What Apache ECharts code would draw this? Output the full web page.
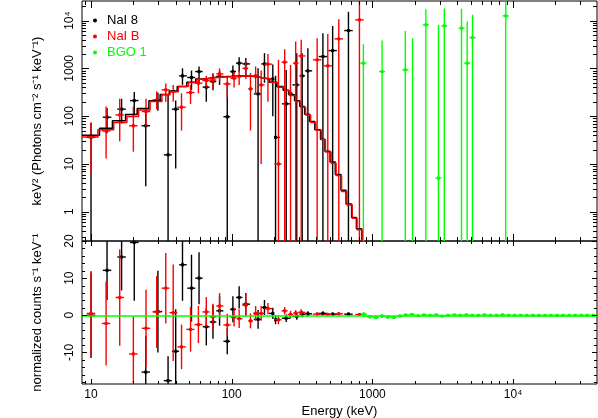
<!DOCTYPE html>
<html>
<head>
<meta charset="utf-8">
<script src="https://cdn.jsdelivr.net/npm/echarts/dist/echarts.min.js"></script>
<style>
  html, body { margin: 0; padding: 0; background: #fff; }
  #main { width: 598px; height: 418px; }
</style>
</head>
<body>
<div id="main"></div>
<script>
// NaI 8 (black): energy, flux (keV^2 F), flux error range, residual and its error
const n8E      = [10.0, 13.0, 16.5, 20.3, 24.5, 29.9, 35.3, 40.0, 44.7, 51.8, 58.6, 66.0, 73.6, 82.0, 93.0, 102, 113, 126, 154, 171, 196, 205, 244, 290, 317, 348, 445, 522, 676];
const n8F      = [36, 95, 140, 212, 63, 212, 15.5, 140, 697, 645, 857, 405, 530, 677, 97, 857, 1285, 1240, 292, 1240, 600, 36, 181, 452, 697, 887, 1766, 2355, 6180];
const n8Hi     = [72, 149, 230, 320, 134, 310, 280, 212, 1000, 900, 1100, 600, 750, 900, 500, 1150, 1700, 1650, 1000, 2080, 1200, 700, 930, 2080, 2080, 2630, 5450, 7750, 15400];
const n8Lo     = [0, 44, 70, 110, 3.4, 130, 0, 8, 450, 350, 500, 200, 350, 450, 0, 600, 850, 700, 0, 500, 100, 0, 0, 0, 0, 0, 0, 0, 0];
const n8Res    = [0, 12.1, 15.7, 19.6, -15.3, 1.0, -17.6, -9.7, 13.6, 7.3, 10, -3.1, -1.8, 1.2, -7, 1.6, 4.8, 3, -1.1, 2.1, 0.5, -1.2, -0.8, -0.3, 0.3, 0.4, 0.5, 0.3, 0.3];
const n8ResErr = [11.5, 8, 9, 15.7, 9.7, 11, 6.6, 11.3, 9.7, 9, 7, 5, 4.5, 4, 3.5, 3.5, 3, 3, 2.5, 2, 1.5, 1.2, 1, 0.9, 0.8, 0.7, 0.6, 0.5, 0.5];

// NaI B (red)
const nbE      = [10.0, 12.8, 16.0, 20.0, 24.6, 29.3, 34.0, 38.4, 44.0, 51.0, 58.0, 66.0, 73.6, 82.0, 93.0, 104, 113, 126, 136, 148, 162, 181, 215, 238, 262, 285, 312, 405, 482, 577, 809];
const nbF      = [37, 49, 106, 63, 125, 219, 355, 327, 154, 312, 490, 556, 570, 767, 473, 620, 680, 1000, 372, 697, 450, 1225, 10, 1350, 300, 1280, 1820, 1510, 1130, 4140, 10350];
const nbHi     = [75, 159, 230, 159, 230, 330, 480, 450, 300, 450, 650, 700, 800, 1000, 700, 850, 900, 1400, 800, 1100, 900, 2000, 1510, 2520, 1180, 3640, 3950, 4280, 5270, 10700, 30000];
const nbLo     = [6.5, 13, 30, 18, 60, 140, 200, 200, 50, 180, 300, 400, 380, 550, 250, 400, 450, 600, 50, 300, 10, 200, 0, 0, 0, 0, 0, 0, 0, 0, 0];
const nbRes    = [0.5, -2.2, 4.8, -10.4, -3.5, 0.9, 7.3, 0.7, -8.5, -3.8, -2.5, 0.9, -0.4, 2.5, -2.6, -0.5, -0.9, 2.7, -1.5, 0.5, 0.5, 1.8, -1.2, 1.2, 0.2, 0.6, 0.8, 0.3, 0.2, 0.4, 0.2];
const nbResErr = [11.4, 11.3, 13, 10, 10.4, 9.7, 9.5, 13, 6, 6, 5, 4, 3.5, 3.5, 3, 2.5, 2.5, 3, 2, 2, 2, 1.5, 1.2, 1, 1, 0.8, 0.8, 0.6, 0.5, 0.5, 0.4];

// BGO 1 (green): points visible in the upper panel
const bgoE  = [863, 1172, 1714, 1930, 2400, 2950, 3245, 4300, 4720, 5150, 8870];
const bgoF  = [1285, 857, 930, 0.1, 8130, 5.05, 7750, 6920, 1285, 4400, 12540];
const bgoHi = [3200, 3815, 6090, 4280, 17300, 8130, 18000, 17600, 9540, 13200, 60000];
// BGO 1 residual channels
const bgoResE   = [870, 960, 1060, 1170, 1290, 1420, 1570, 1730, 1910, 2110, 2330, 2570, 2840, 3130, 3460, 3820, 4210, 4650, 5130, 5670, 6260, 6910, 7630, 8420, 9300, 10270, 11340, 12520, 13820, 15260, 16850, 18600, 20540, 22680, 25040, 27650, 30530, 33710, 37220];
const bgoRes    = [0.3, -0.4, -0.6, -0.2, -0.5, -0.6, -0.2, 0.1, 0.2, -0.1, 0.1, 0, 0.1, -0.2, 0, 0.1, 0, 0.1, 0, 0, 0.1, 0, 0, 0.1, 0, 0, 0, 0, 0, 0, 0, 0, 0, 0, 0, 0, 0, 0, 0];
const bgoResErr = [0.6, 0.5, 0.5, 0.5, 0.4, 0.4, 0.4, 0.3, 0.3, 0.3, 0.3, 0.3, 0.3, 0.3, 0.3, 0.3, 0.3, 0.3, 0.3, 0.3, 0.3, 0.3, 0.3, 0.3, 0.3, 0.3, 0.3, 0.3, 0.3, 0.3, 0.3, 0.3, 0.3, 0.3, 0.3, 0.3, 0.3, 0.3, 0.3];

// folded model (step histograms)
const n8ModelE = [8.63, 11.5, 14.2, 17.6, 21.3, 25.8, 31.0, 36.0, 41.0, 48.0, 55.5, 64, 80, 130, 155, 185, 208, 232, 255, 280, 305, 330, 358, 390, 428, 460, 500, 545, 598, 650, 712, 770, 840];
const n8ModelF = [40, 56, 80, 108, 145, 210, 285, 335, 420, 510, 600, 660, 700, 660, 600, 510, 420, 350, 280, 210, 160, 110, 77, 52, 33, 18.5, 11, 6, 2.8, 1.45, 0.76, 0.44];
const nbModelE = [8.63, 11.2, 14.5, 18.0, 21.8, 26.3, 31.9, 36.5, 41.8, 49.3, 56.5, 63.1, 82, 134, 158, 191, 213, 238, 258, 285, 312, 335, 364, 396, 434, 464, 509, 552, 604, 660, 719, 778, 845];
const nbModelF = [36.5, 52, 74, 98, 135, 202, 280, 326, 417, 505, 594, 654, 697, 654, 594, 505, 405, 340, 270, 202, 154, 106, 74, 50.5, 32, 17.7, 10.4, 5.7, 2.65, 1.39, 0.73, 0.42];

const FONT = '"Liberation Sans", Arial, Helvetica, sans-serif';
const X_MIN = 8.63, X_MAX = 39500;
const FLOOR = 1e-3;
const MAX_HALF = 1.072; // widest half-bin drawn, as an energy ratio
const SUP = ['⁰', '¹', '²', '³', '⁴', '⁵'];

// bin edges: geometric midpoints between neighbouring channels
function binEdges(list) {
  return list.map((e, i) => {
    const prev = i > 0 ? list[i - 1] : e * e / list[i + 1];
    const next = i < list.length - 1 ? list[i + 1] : e * e / list[i - 1];
    const lo = Math.max(Math.sqrt(prev * e), e / MAX_HALF);
    const hi = Math.min(Math.sqrt(e * next), e * MAX_HALF);
    return [lo, hi];
  });
}
function nearestEdges(grid, e) {
  const ed = binEdges(grid);
  let best = 0;
  grid.forEach((g, i) => { if (Math.abs(Math.log(g / e)) < Math.abs(Math.log(grid[best] / e))) best = i; });
  const w = Math.sqrt(ed[best][1] / ed[best][0]);
  return [e / w, e * w];
}

function topRows(E, F, lo, hi) {
  const ed = binEdges(E);
  return E.map((e, i) => [e, ed[i][0], ed[i][1], F[i], lo[i] > 0 ? lo[i] : FLOOR, hi[i]]);
}
function resRows(E, R, err) {
  const ed = binEdges(E);
  return E.map((e, i) => [e, ed[i][0], ed[i][1], R[i], R[i] - err[i], R[i] + err[i]]);
}
function stepData(edges, vals) {
  const pts = vals.map((v, i) => [edges[i], v]);
  pts.push([edges[edges.length - 1], vals[vals.length - 1]]);
  pts.push([edges[edges.length - 1], FLOOR]);
  return pts;
}

function crossRender(color) {
  return function (params, api) {
    const c = api.coord([api.value(0), api.value(3)]);
    const l = api.coord([api.value(1), api.value(3)]);
    const r = api.coord([api.value(2), api.value(3)]);
    const b = api.coord([api.value(0), api.value(4)]);
    const t = api.coord([api.value(0), api.value(5)]);
    const st = { stroke: color, lineWidth: 1.4 };
    return {
      type: 'group',
      children: [
        { type: 'line', shape: { x1: l[0], y1: c[1], x2: r[0], y2: c[1] }, style: st },
        { type: 'line', shape: { x1: c[0], y1: t[1], x2: c[0], y2: b[1] }, style: st },
        { type: 'rect', shape: { x: c[0] - 1.5, y: c[1] - 1.5, width: 3, height: 3 }, style: { fill: color } }
      ]
    };
  };
}
function crossSeries(name, gi, color, rows) {
  return {
    name: name, type: 'custom', xAxisIndex: gi, yAxisIndex: gi, clip: true, silent: true,
    itemStyle: { color: color }, data: rows, renderItem: crossRender(color)
  };
}

function logTicks(lo, hi) {
  const out = [];
  for (let d = -2; d <= 5; d++) {
    for (let m = 1; m <= 9; m++) {
      const v = m * Math.pow(10, d);
      if (v >= lo && v <= hi) out.push({ v: v, major: m === 1 });
    }
  }
  return out;
}
function linTicks(lo, hi) {
  const out = [];
  for (let v = -20; v <= 20; v += 2) if (v >= lo && v <= hi) out.push({ v: v, major: v % 10 === 0 });
  return out;
}
function frameTicks(gi, xt, yt, refY, big, small) {
  return {
    type: 'custom', xAxisIndex: gi, yAxisIndex: gi, silent: true, z: 10,
    data: [[X_MIN * 2, refY]],
    renderItem: function (params, api) {
      const cs = params.coordSys;
      const kids = [];
      const add = (x1, y1, x2, y2) => kids.push({ type: 'line', shape: { x1, y1, x2, y2 }, style: { stroke: '#000', lineWidth: 1 } });
      xt.forEach(t => {
        const px = Math.round(api.coord([t.v, refY])[0]) + 0.5;
        const L = t.major ? big : small;
        add(px, cs.y, px, cs.y + L);
        add(px, cs.y + cs.height, px, cs.y + cs.height - L);
      });
      yt.forEach(t => {
        const py = Math.round(api.coord([X_MIN * 2, t.v])[1]) + 0.5;
        const L = t.major ? big : small;
        add(cs.x, py, cs.x + L, py);
        add(cs.x + cs.width, py, cs.x + cs.width - L, py);
      });
      return { type: 'group', children: kids };
    }
  };
}

function powLabel(v) {
  const lg = Math.log10(v), p = Math.round(lg);
  if (Math.abs(lg - p) > 1e-6) return '';
  return p >= 4 ? '10' + SUP[p] : String(Math.round(Math.pow(10, p) * 1000) / 1000);
}

const Y_TOP_MIN = 0.244, Y_TOP_MAX = 25700;
const Y_BOT_MIN = -18.5, Y_BOT_MAX = 20;

const labelStyle = { color: '#000', fontFamily: FONT, fontSize: 12 };
const nameStyle = { color: '#000', fontFamily: FONT, fontSize: 13 };

const myChart = echarts.init(document.getElementById('main'), null, { renderer: 'canvas' });
const option = {
  backgroundColor: '#fff',
  animation: false,
  textStyle: { fontFamily: FONT },
  grid: [
    { left: 82, top: 1, width: 515, height: 240, show: true, borderColor: '#000', borderWidth: 1, backgroundColor: 'transparent', containLabel: false, outerBoundsMode: 'none' },
    { left: 82, top: 241, width: 515, height: 143, show: true, borderColor: '#000', borderWidth: 1, backgroundColor: 'transparent', containLabel: false, outerBoundsMode: 'none' }
  ],
  legend: {
    orient: 'vertical', left: 88, top: 9, itemWidth: 14, itemHeight: 4, itemGap: 3,
    icon: 'circle', selectedMode: false,
    textStyle: { fontFamily: FONT, fontSize: 13, lineHeight: 13 },
    data: [
      { name: 'NaI 8', textStyle: { color: '#000' } },
      { name: 'NaI B', textStyle: { color: '#ff0000' } },
      { name: 'BGO 1', textStyle: { color: '#00ff00' } }
    ]
  },
  xAxis: [
    {
      type: 'log', gridIndex: 0, min: X_MIN, max: X_MAX,
      axisLine: { show: false }, axisTick: { show: false }, axisLabel: { show: false }, splitLine: { show: false }
    },
    {
      type: 'log', gridIndex: 1, min: X_MIN, max: X_MAX,
      name: 'Energy (keV)', nameLocation: 'middle', nameGap: 21, nameTextStyle: nameStyle,
      axisLine: { show: false }, axisTick: { show: false }, splitLine: { show: false },
      axisLabel: Object.assign({ margin: 5, formatter: powLabel, showMinLabel: true, showMaxLabel: true }, labelStyle)
    }
  ],
  yAxis: [
    {
      type: 'log', gridIndex: 0, min: Y_TOP_MIN, max: Y_TOP_MAX,
      name: 'keV² (Photons cm⁻² s⁻¹ keV⁻¹)', nameLocation: 'middle', nameRotate: 90, nameGap: 38, nameTextStyle: nameStyle,
      axisLine: { show: false }, axisTick: { show: false }, splitLine: { show: false },
      axisLabel: Object.assign({ margin: 6, rotate: 90, formatter: powLabel }, labelStyle)
    },
    {
      type: 'value', gridIndex: 1, min: Y_BOT_MIN, max: Y_BOT_MAX,
      name: 'normalized counts s⁻¹ keV⁻¹', nameLocation: 'middle', nameRotate: 90, nameGap: 38, nameTextStyle: nameStyle,
      axisLine: { show: false }, axisTick: { show: false }, splitLine: { show: false },
      axisLabel: Object.assign({ margin: 6, rotate: 90, formatter: v => (Math.abs(v % 10) < 1e-9 ? String(v) : '') }, labelStyle)
    }
  ],
  series: [
    crossSeries('NaI 8', 0, '#000000', topRows(n8E, n8F, n8Lo, n8Hi)),
    crossSeries('NaI B', 0, '#ff0000', topRows(nbE, nbF, nbLo, nbHi)),
    crossSeries('BGO 1', 0, '#00ff00', bgoE.map((e, i) => {
      const ed = nearestEdges(bgoResE, e);
      return [e, ed[0], ed[1], bgoF[i], FLOOR, bgoHi[i]];
    })),
    {
      type: 'line', xAxisIndex: 0, yAxisIndex: 0, step: 'end', showSymbol: false, silent: true,
      data: stepData(n8ModelE, n8ModelF), lineStyle: { color: '#000', width: 1.5 }, itemStyle: { color: '#000' }
    },
    {
      type: 'line', xAxisIndex: 0, yAxisIndex: 0, step: 'end', showSymbol: false, silent: true,
      data: stepData(nbModelE, nbModelF), lineStyle: { color: '#ff0000', width: 1.5 }, itemStyle: { color: '#ff0000' }
    },
    crossSeries('NaI 8', 1, '#000000', resRows(n8E, n8Res, n8ResErr)),
    crossSeries('NaI B', 1, '#ff0000', resRows(nbE, nbRes, nbResErr)),
    Object.assign(crossSeries('BGO 1', 1, '#00ff00', resRows(bgoResE, bgoRes, bgoResErr)), {
      markLine: {
        silent: true, symbol: 'none', label: { show: false },
        lineStyle: { color: '#00ff00', width: 1.5, type: 'solid' },
        data: [{ yAxis: 0 }]
      }
    }),
    frameTicks(0, logTicks(X_MIN, X_MAX), logTicks(Y_TOP_MIN, Y_TOP_MAX), 1, 7, 4),
    frameTicks(1, logTicks(X_MIN, X_MAX), linTicks(Y_BOT_MIN, Y_BOT_MAX), 0, 5, 3)
  ]
};
myChart.setOption(option);
</script>
</body>
</html>
